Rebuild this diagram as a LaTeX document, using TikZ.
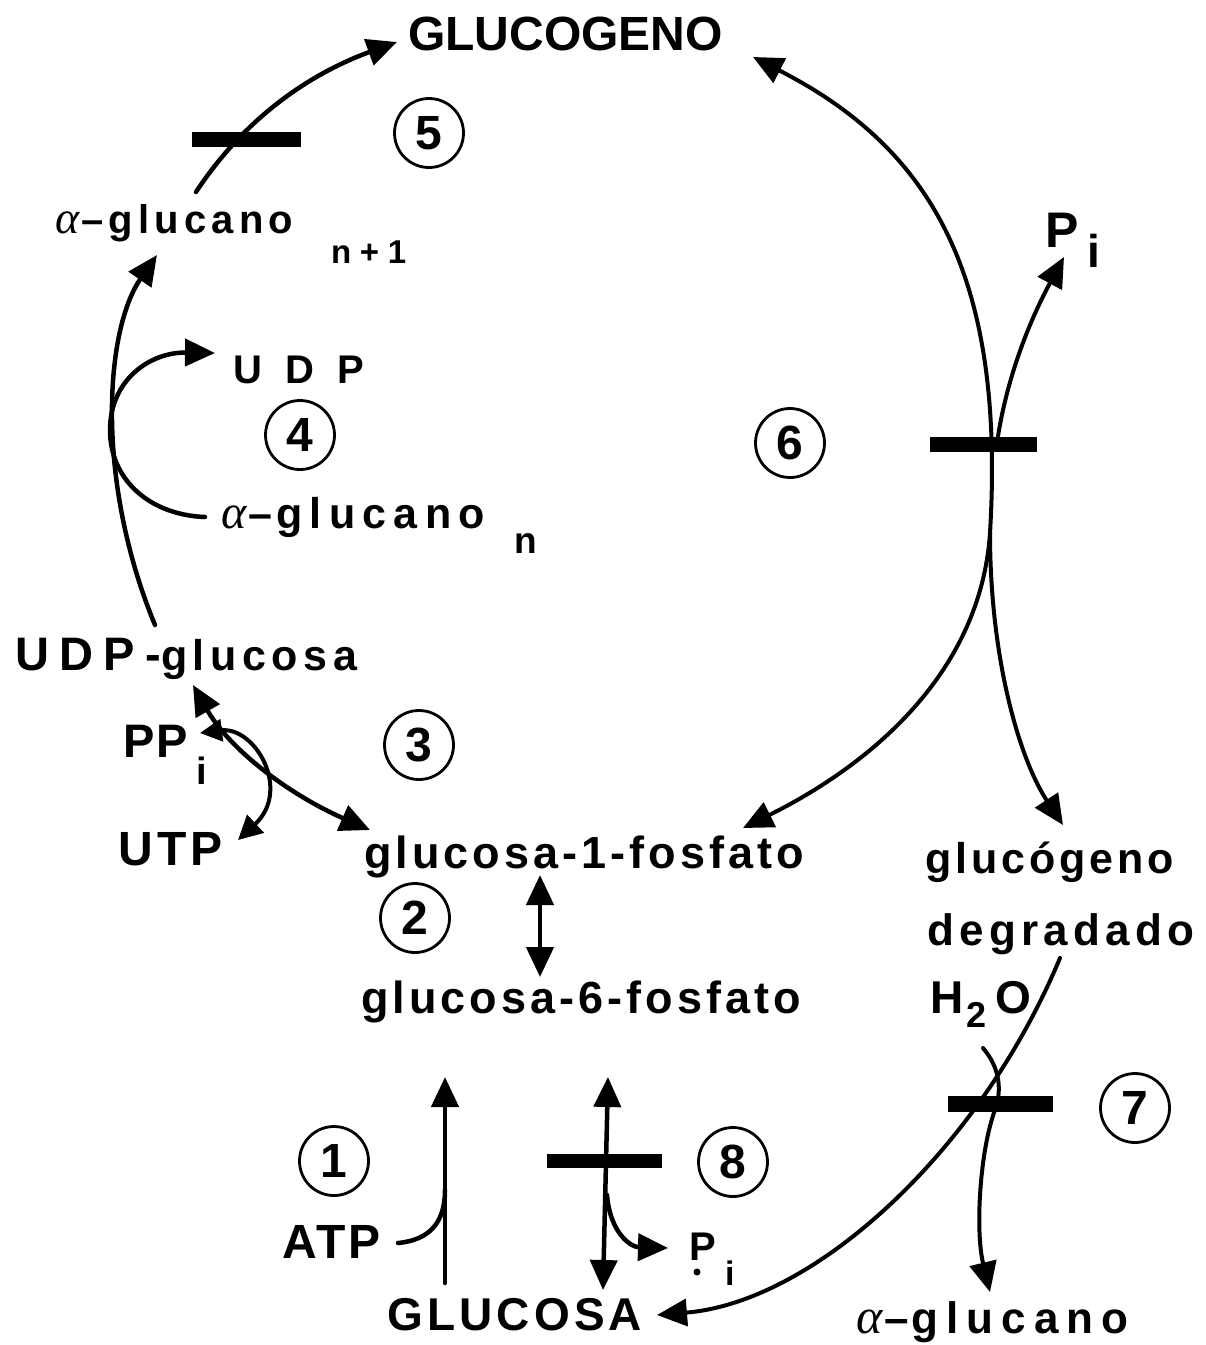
\documentclass[tikz,border=0pt]{standalone}
\usepackage{fontspec}
\setmainfont{Liberation Sans}
\newfontfamily\alfam{Liberation Serif}
\usetikzlibrary{arrows.meta}
\newcommand\fz[2]{\fontsize{#1}{#1}\selectfont\bfseries\addfontfeature{LetterSpace=#2}}
\newcommand\al[1]{{\alfam\itshape\mdseries\fontsize{#1}{#1}\selectfont α}}
\begin{document}
\begin{tikzpicture}[x=1pt,y=-1pt,
  lbl/.style={inner sep=0pt, anchor=base west},
  num/.style={circle, draw, line width=2.8pt, minimum size=69pt, inner sep=0pt, font=\fz{48}{0}},
  bar/.style={rectangle, fill=black, inner sep=0pt},
  ln/.style={line width=4.5pt, line cap=round},
  arr/.style={ln, -{Triangle[length=30pt,width=27pt]}},
  darr/.style={ln, {Triangle[length=30pt,width=27pt]}-{Triangle[length=30pt,width=27pt]}},
  sarr/.style={ln, line width=4pt, {Triangle[length=22pt,width=22pt]}-{Triangle[length=24pt,width=24pt]}}]
\useasboundingbox (0,0) rectangle (1206,1345);

% labels
\node[lbl, font=\fz{48}{0}] (glucogeno) at (408,50) {GLUCOGENO};
\node[lbl, font=\fz{40}{13}] (aglun1) at (55,233) {\al{46}\kern2pt–glucano};
\node[lbl, font=\fz{33}{26}] (n1) at (331,263) {n+1};
\node[lbl, font=\fz{40}{58}] (udp) at (233,383) {UDP};
\node[lbl, font=\fz{43}{17}] (aglun) at (221,528) {\al{48}\kern2pt–\kern4pt glucano};
\node[lbl, font=\fz{37}{0}] (nsub) at (514,553) {n};
\node[lbl, font=\fz{47}{22}] (udpg) at (15,670) {UDP-{\fz{43}{13}glucosa}};
\node[lbl, font=\fz{47}{5}] (ppi) at (123,757) {PP};
\node[lbl, font=\fz{38}{0}] (ppisub) at (196,784) {i};
\node[lbl, font=\fz{48}{9}] (utp) at (118,865) {UTP};
\node[lbl, font=\fz{45}{9}] (g1p) at (364,868) {glucosa-1-fosfato};
\node[lbl, font=\fz{45}{9}] (g6p) at (361,1013) {glucosa-6-fosfato};
\node[lbl, font=\fz{43}{9}] (gdeg1) at (925,873) {glucógeno};
\node[lbl, font=\fz{44}{12}] (gdeg2) at (927,945) {degradado};
\node[lbl, font=\fz{46}{0}] (h2o) at (930,1013) {H\kern3pt\raisebox{-14pt}{\fz{36}{0}2}\kern9pt O};
\node[lbl, font=\fz{44}{18}] (aglub) at (856,1333) {\al{50}\kern2pt–\kern3pt glucano};
\node[lbl, font=\fz{46}{9}] (glucosa) at (387,1330) {GLUCOSA};
\node[lbl, font=\fz{48}{6}] (atp) at (282,1258) {ATP};
\node[lbl, font=\fz{40}{0}] (pib) at (689,1260) {P};
\node[lbl, font=\fz{34}{0}] (pibsub) at (725,1285) {i};
\fill (697,1272) circle (3.5);
\node[lbl, font=\fz{50}{0}] (pit) at (1045,247) {P};
\node[lbl, font=\fz{46}{0}] (pitsub) at (1087,267) {i};

% circled numbers
\node[num] (n1c) at (334,1161) {1};
\node[num] (n2c) at (415,918) {2};
\node[num] (n3c) at (419,745) {3};
\node[num] (n4c) at (300,435) {4};
\node[num] (n5c) at (429,133) {5};
\node[num] (n6c) at (790,443) {6};
\node[num] (n7c) at (1135,1108) {7};
\node[num] (n8c) at (733,1162) {8};

% bars
\node[bar, minimum width=109pt, minimum height=15pt] (bar5) at (246,139) {};
\node[bar, minimum width=107pt, minimum height=15pt] (bar6) at (983,444) {};
\node[bar, minimum width=105pt, minimum height=16pt] (bar7) at (1000,1104) {};
\node[bar, minimum width=115pt, minimum height=14pt] (bar8) at (604,1161) {};

% coordinates
\coordinate (s5) at (196,192);
\coordinate (e5) at (397,42);
\coordinate (sug) at (155,625);
\coordinate (eag) at (157,255);
\coordinate (san) at (205,517);
\coordinate (mid4) at (110,430);
\coordinate (eudp) at (215,353);
\coordinate (eppi) at (200,733);
\coordinate (eutp) at (238,840);
\coordinate (e3a) at (193,685);
\coordinate (e3b) at (370,830);
\coordinate (e2a) at (540,875);
\coordinate (e2b) at (540,977);
\coordinate (split) at (990,533);
\coordinate (eglg) at (753,57);
\coordinate (eg1p) at (743,828);
\coordinate (edeg) at (1063,825);
\coordinate (s6pi) at (996,450);
\coordinate (e6pi) at (1064,257);
\coordinate (s1) at (445,1283);
\coordinate (e1) at (445,1077);
\coordinate (satp) at (398,1243);
\coordinate (j1) at (445,1190);
\coordinate (s8) at (603,1290);
\coordinate (e8) at (608,1077);
\coordinate (j8) at (607,1195);
\coordinate (epi8) at (668,1248);
\coordinate (sdeg) at (1060,958);
\coordinate (eglu) at (657,1315);
\coordinate (sh2o) at (983,1048);
\coordinate (x7) at (995,1110);
\coordinate (eagb) at (990,1292);

% connectors
\draw[arr] (s5) .. controls (250,110) and (320,70) .. (e5);
\draw[arr] (sug) .. controls (95,480) and (105,330) .. (eag);
\draw[arr] (san) .. controls (150,515) and (110,480) .. (mid4) .. controls (110,380) and (150,352) .. (eudp);
\draw[sarr] (eppi) .. controls (255,726) and (292,790) .. (eutp);
\draw[darr] (e3a) .. controls (230,750) and (290,795) .. (e3b);
\draw[darr] (e2a) -- (e2b);
\draw[arr, line width=4pt] (split) .. controls (1005,280) and (935,150) .. (eglg);
\draw[arr, line width=4pt] (split) .. controls (980,680) and (860,770) .. (eg1p);
\draw[arr, line width=4pt] (split) .. controls (990,660) and (1020,760) .. (edeg);
\draw[arr, line width=4pt] (s6pi) .. controls (1005,380) and (1030,320) .. (e6pi);
\draw[arr] (s1) -- (e1);
\draw[ln] (satp) .. controls (430,1240) and (445,1222) .. (j1);
\draw[darr] (s8) -- (e8);
\draw[arr] (j8) .. controls (610,1232) and (630,1247) .. (epi8);
\draw[arr, line width=4pt] (sdeg) .. controls (980,1150) and (815,1302) .. (eglu);
\draw[arr, line width=4pt] (sh2o) .. controls (1000,1068) and (1002,1090) .. (x7) .. controls (980,1150) and (975,1230) .. (eagb);
\end{tikzpicture}
\end{document}
